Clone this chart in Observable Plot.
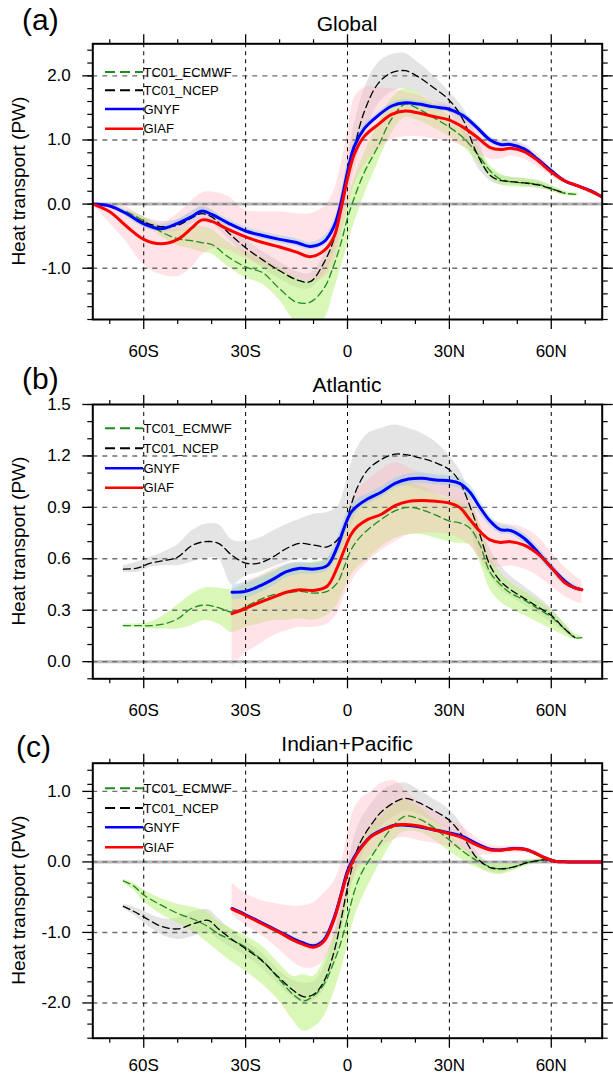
<!DOCTYPE html>
<html><head><meta charset="utf-8">
<script src="https://cdn.jsdelivr.net/npm/d3@7"></script>
<script src="https://cdn.jsdelivr.net/npm/@observablehq/plot@0.6"></script>
<style>
body{margin:0;background:#fff;}
#wrap{position:relative;width:613px;height:1076px;overflow:hidden;background:#fff;}
#wrap svg{position:absolute;left:0;overflow:visible;}
</style></head><body><div id="wrap"></div>
<script>
// ---------- shared labels ----------
const seriesNames = ["TC01_ECMWF", "TC01_NCEP", "GNYF", "GIAF"];
const latTicks = [-60, -30, 0, 30, 60];
const latTickLabels = ["60S", "30S", "0", "30N", "60N"];
const latMinor = [-70, -50, -40, -20, -10, 10, 20, 40, 50, 70];
const yLabel = "Heat transport (PW)";

// ---------- (a) Global ----------
const titleA = "Global";
const latA = [-75,-70,-65,-60,-55,-50,-46,-43,-40,-35,-30,-25,-20,-15,-11,-7,-4,-2,0,2,5,9,13,17,21,25,30,34,38,42,45,48,52,56,60,64,68,72,75];
const gnyfA = [0,-0.03,-0.15,-0.31,-0.385,-0.3,-0.2,-0.11,-0.16,-0.3,-0.42,-0.49,-0.55,-0.6,-0.66,-0.59,-0.35,0.0,0.5,0.9,1.18,1.38,1.53,1.58,1.56,1.52,1.48,1.38,1.2,1.0,0.93,0.93,0.86,0.7,0.52,0.36,0.28,0.2,0.11];
const gnyfA_lo = [0,-0.06,-0.2,-0.36,-0.43,-0.35,-0.26,-0.17,-0.21,-0.35,-0.47,-0.55,-0.61,-0.66,-0.71,-0.65,-0.43,-0.1,0.4,0.82,1.12,1.33,1.48,1.53,1.51,1.47,1.43,1.32,1.14,0.95,0.88,0.88,0.81,0.66,0.49,0.33,0.26,0.18,0.1];
const gnyfA_hi = [0,0,-0.1,-0.26,-0.33,-0.24,-0.13,-0.05,-0.1,-0.24,-0.36,-0.43,-0.49,-0.54,-0.6,-0.51,-0.26,0.1,0.6,0.98,1.24,1.43,1.58,1.63,1.61,1.57,1.53,1.44,1.26,1.05,0.98,0.98,0.91,0.74,0.55,0.39,0.3,0.22,0.12];
const giafA = [0,-0.12,-0.35,-0.55,-0.62,-0.55,-0.38,-0.25,-0.27,-0.4,-0.51,-0.6,-0.67,-0.75,-0.82,-0.73,-0.51,-0.1,0.4,0.78,1.06,1.24,1.4,1.45,1.42,1.37,1.31,1.2,1.05,0.88,0.85,0.87,0.82,0.68,0.5,0.36,0.28,0.19,0.11];
const giafA_lo = [0,-0.3,-0.6,-0.95,-1.1,-1.13,-1.0,-0.8,-0.7,-0.72,-0.85,-0.95,-1.05,-1.15,-1.2,-1.15,-0.9,-0.5,-0.1,0.3,0.6,0.85,1.0,1.05,1.05,1.02,0.98,0.9,0.8,0.7,0.7,0.75,0.7,0.58,0.44,0.32,0.26,0.18,0.11];
const giafA_hi = [0,0,-0.05,-0.2,-0.3,-0.15,0.05,0.17,0.19,0.12,-0.1,-0.12,-0.12,-0.15,-0.15,-0.05,0.2,0.6,1.1,1.65,1.82,1.82,1.8,1.75,1.7,1.62,1.55,1.42,1.25,1.05,1.0,1.0,0.94,0.78,0.56,0.4,0.3,0.2,0.11];
const ncepA = [null,null,-0.15,-0.28,-0.35,-0.33,-0.22,-0.15,-0.2,-0.45,-0.68,-0.87,-1.04,-1.18,-1.21,-0.92,-0.55,-0.12,0.4,0.88,1.45,1.88,2.05,2.08,1.98,1.83,1.62,1.32,0.8,0.45,0.37,0.35,0.33,0.3,0.24,0.17,null,null,null];
const ncepA_lo = [null,null,-0.2,-0.36,-0.43,-0.42,-0.32,-0.24,-0.3,-0.55,-0.8,-1.0,-1.17,-1.3,-1.32,-1.1,-0.75,-0.35,0.1,0.55,1.1,1.55,1.75,1.8,1.72,1.6,1.42,1.1,0.6,0.36,0.3,0.3,0.28,0.25,0.2,0.14,null,null,null];
const ncepA_hi = [null,null,-0.1,-0.2,-0.27,-0.24,-0.12,-0.03,-0.08,-0.35,-0.56,-0.74,-0.9,-1.05,-1.08,-0.8,-0.35,0.15,0.7,1.25,1.8,2.2,2.33,2.35,2.2,2.02,1.75,1.5,1.08,0.55,0.45,0.42,0.4,0.36,0.28,0.2,null,null,null];
const ecmwfA = [null,null,-0.12,-0.26,-0.43,-0.54,-0.57,-0.6,-0.63,-0.83,-0.98,-1.07,-1.32,-1.53,-1.53,-1.32,-0.95,-0.62,-0.22,0.1,0.5,0.9,1.33,1.56,1.48,1.36,1.2,1.04,0.8,0.52,0.39,0.35,0.33,0.31,0.24,0.17,0.15,null,null];
const ecmwfA_lo = [null,null,-0.15,-0.3,-0.5,-0.65,-0.7,-0.75,-0.78,-0.98,-1.15,-1.25,-1.5,-1.85,-1.9,-1.8,-1.35,-1.0,-0.65,-0.3,0.15,0.65,1.1,1.35,1.3,1.2,1.05,0.9,0.68,0.42,0.3,0.27,0.26,0.25,0.2,0.13,0.13,null,null];
const ecmwfA_hi = [null,null,-0.08,-0.2,-0.35,-0.4,-0.35,-0.35,-0.4,-0.6,-0.75,-0.85,-1.0,-1.15,-1.2,-1.0,-0.6,-0.3,0.1,0.4,0.8,1.25,1.65,1.8,1.72,1.58,1.38,1.18,0.92,0.6,0.47,0.42,0.4,0.37,0.29,0.2,0.17,null,null];
const yTicksA = [-1, 0, 1, 2];

// ---------- (b) Atlantic ----------
const titleB = "Atlantic";
const latB = [-66,-62,-58,-54,-50,-46,-42,-38,-34,-30,-26,-22,-18,-14,-10,-6,-3,-1,1,3,6,10,14,18,22,26,30,33,36,39,42,45,48,52,56,60,64,67,69];
const ncepB = [0.54,0.545,0.575,0.59,0.61,0.675,0.70,0.69,0.62,0.575,0.575,0.61,0.66,0.69,0.68,0.67,0.71,0.78,0.91,1.02,1.12,1.18,1.21,1.205,1.185,1.16,1.12,1.05,0.91,0.74,0.56,0.47,0.42,0.37,0.32,0.27,0.19,0.14,null];
const ncepB_lo = [0.52,0.52,0.55,0.56,0.56,0.58,0.6,0.6,0.45,0.5,0.52,0.55,0.58,0.6,0.6,0.6,0.62,0.68,0.78,0.88,0.95,1.0,1.02,1.02,1.0,0.98,0.95,0.88,0.78,0.6,0.5,0.42,0.38,0.33,0.28,0.23,0.17,0.13,null];
const ncepB_hi = [0.56,0.58,0.61,0.64,0.68,0.76,0.8,0.8,0.71,0.7,0.72,0.76,0.8,0.83,0.86,0.87,0.9,1.0,1.15,1.25,1.33,1.36,1.38,1.36,1.33,1.28,1.2,1.12,0.98,0.8,0.66,0.56,0.5,0.44,0.38,0.31,0.22,0.15,null];
const ecmwfB = [0.21,0.21,0.21,0.22,0.25,0.31,0.33,0.315,0.29,0.32,0.36,0.39,0.40,0.41,0.40,0.41,0.46,0.55,0.65,0.71,0.77,0.83,0.88,0.9,0.885,0.855,0.82,0.81,0.78,0.68,0.52,0.45,0.4,0.36,0.31,0.26,0.19,0.14,0.14];
const ecmwfB_lo = [0.2,0.2,0.19,0.19,0.19,0.21,0.24,0.22,0.17,0.2,0.22,0.24,0.24,0.25,0.24,0.27,0.33,0.42,0.5,0.55,0.6,0.67,0.72,0.74,0.74,0.72,0.7,0.69,0.68,0.58,0.42,0.35,0.31,0.27,0.23,0.19,0.15,0.13,0.13];
const ecmwfB_hi = [0.22,0.22,0.23,0.27,0.33,0.39,0.43,0.43,0.42,0.45,0.49,0.53,0.56,0.57,0.58,0.6,0.68,0.76,0.85,0.9,0.96,1.0,1.03,1.04,1.02,0.98,0.95,0.93,0.9,0.8,0.62,0.52,0.46,0.41,0.36,0.3,0.22,0.16,0.15];
const gnyfB = [null,null,null,null,null,null,null,null,0.405,0.41,0.44,0.48,0.525,0.545,0.54,0.56,0.67,0.78,0.87,0.91,0.95,0.99,1.04,1.065,1.07,1.06,1.055,1.04,0.99,0.9,0.82,0.77,0.765,0.72,0.64,0.55,0.47,0.43,0.42];
const gnyfB_lo = [null,null,null,null,null,null,null,null,0.36,0.37,0.4,0.44,0.49,0.51,0.51,0.53,0.62,0.73,0.83,0.88,0.92,0.96,1.01,1.035,1.04,1.03,1.025,1.01,0.95,0.86,0.79,0.745,0.74,0.69,0.61,0.52,0.45,0.41,0.41];
const gnyfB_hi = [null,null,null,null,null,null,null,null,0.45,0.46,0.49,0.52,0.565,0.58,0.575,0.6,0.72,0.83,0.91,0.95,0.98,1.02,1.07,1.095,1.1,1.09,1.085,1.07,1.03,0.94,0.85,0.8,0.79,0.75,0.67,0.58,0.49,0.45,0.43];
const giafB = [null,null,null,null,null,null,null,null,0.28,0.31,0.345,0.375,0.405,0.42,0.415,0.44,0.55,0.65,0.74,0.79,0.83,0.86,0.91,0.935,0.94,0.935,0.925,0.9,0.83,0.76,0.71,0.695,0.7,0.68,0.63,0.55,0.46,0.43,0.42];
const giafB_lo = [null,null,null,null,null,null,null,null,-0.03,0.05,0.1,0.15,0.18,0.2,0.2,0.22,0.28,0.38,0.46,0.52,0.58,0.65,0.7,0.74,0.75,0.75,0.74,0.72,0.68,0.6,0.56,0.55,0.56,0.54,0.5,0.44,0.38,0.35,0.34];
const giafB_hi = [null,null,null,null,null,null,null,null,0.42,0.47,0.5,0.54,0.57,0.58,0.57,0.6,0.7,0.82,0.93,1.0,1.06,1.12,1.16,1.13,1.1,1.08,1.07,1.04,0.96,0.88,0.83,0.81,0.8,0.78,0.73,0.64,0.55,0.5,0.47];
const yTicksB = [0, 0.3, 0.6, 0.9, 1.2, 1.5];

// ---------- (c) Indian+Pacific ----------
const titleC = "Indian+Pacific";
const latC = [-66,-63,-60,-55,-50,-45,-41,-38,-34,-30,-25,-20,-16,-13,-10,-7,-4,-2,0,2,4,7,10,14,17,21,25,30,34,38,42,45,49,53,58,61,65,70,75];
const ecmwfC = [-0.27,-0.34,-0.47,-0.61,-0.73,-0.82,-0.92,-1.02,-1.11,-1.21,-1.4,-1.67,-1.88,-1.97,-1.9,-1.74,-1.42,-1.15,-0.79,-0.42,-0.17,0.07,0.29,0.54,0.65,0.61,0.5,0.31,0.15,0.02,-0.07,-0.1,-0.07,-0.01,0.03,0.02,null,null,null];
const ecmwfC_lo = [-0.3,-0.4,-0.56,-0.74,-0.87,-1.0,-1.15,-1.27,-1.42,-1.55,-1.74,-1.98,-2.25,-2.4,-2.35,-2.2,-1.85,-1.55,-1.2,-0.8,-0.55,-0.25,0.02,0.33,0.43,0.42,0.33,0.15,0.02,-0.08,-0.16,-0.18,-0.12,-0.05,0.0,0.0,null,null,null];
const ecmwfC_hi = [-0.25,-0.3,-0.4,-0.52,-0.6,-0.65,-0.72,-0.85,-0.95,-1.05,-1.2,-1.45,-1.62,-1.6,-1.62,-1.4,-1.05,-0.75,-0.35,0.05,0.3,0.5,0.65,0.82,0.88,0.78,0.62,0.42,0.22,0.08,0.0,-0.02,0.0,0.03,0.05,0.04,null,null,null];
const ncepC = [-0.63,-0.7,-0.78,-0.91,-0.95,-0.87,-0.83,-0.95,-1.1,-1.23,-1.41,-1.65,-1.82,-1.91,-1.88,-1.7,-1.28,-0.85,-0.36,0.04,0.3,0.53,0.71,0.85,0.9,0.84,0.74,0.59,0.36,0.06,-0.08,-0.1,-0.07,-0.01,0.03,0.02,null,null,null];
const ncepC_lo = [-0.66,-0.75,-0.86,-1.03,-1.1,-1.05,-1.0,-1.1,-1.22,-1.33,-1.52,-1.75,-1.93,-2.0,-1.97,-1.82,-1.45,-1.05,-0.6,-0.2,0.05,0.3,0.5,0.65,0.72,0.68,0.58,0.43,0.22,-0.04,-0.14,-0.16,-0.11,-0.04,0.01,0.01,null,null,null];
const ncepC_hi = [-0.6,-0.64,-0.7,-0.8,-0.8,-0.7,-0.68,-0.8,-0.98,-1.12,-1.3,-1.55,-1.68,-1.72,-1.7,-1.5,-1.05,-0.6,-0.1,0.35,0.6,0.82,1.0,1.1,1.12,1.02,0.9,0.74,0.5,0.15,-0.02,-0.04,-0.02,0.02,0.05,0.04,null,null,null];
const gnyfC = [null,null,null,null,null,null,null,null,-0.66,-0.75,-0.87,-0.99,-1.09,-1.15,-1.19,-1.11,-0.8,-0.48,-0.13,0.07,0.21,0.37,0.45,0.52,0.52,0.5,0.46,0.41,0.36,0.26,0.18,0.17,0.19,0.17,0.06,0.01,0,0,0];
const gnyfC_lo = [null,null,null,null,null,null,null,null,-0.68,-0.77,-0.89,-1.01,-1.12,-1.18,-1.22,-1.14,-0.84,-0.52,-0.17,0.04,0.19,0.35,0.43,0.5,0.5,0.48,0.44,0.39,0.33,0.23,0.16,0.15,0.17,0.15,0.05,0.0,0,0,0];
const gnyfC_hi = [null,null,null,null,null,null,null,null,-0.64,-0.73,-0.85,-0.97,-1.06,-1.12,-1.16,-1.08,-0.76,-0.44,-0.09,0.1,0.23,0.39,0.47,0.54,0.54,0.52,0.48,0.43,0.38,0.28,0.2,0.19,0.21,0.19,0.07,0.02,0,0,0];
const giafC = [null,null,null,null,null,null,null,null,-0.67,-0.76,-0.88,-1.0,-1.11,-1.17,-1.21,-1.13,-0.82,-0.49,-0.16,0.05,0.2,0.36,0.44,0.52,0.53,0.51,0.46,0.4,0.34,0.24,0.17,0.166,0.185,0.17,0.06,0.01,0,0,0];
const giafC_lo = [null,null,null,null,null,null,null,null,-0.75,-0.9,-1.05,-1.25,-1.42,-1.5,-1.5,-1.4,-1.12,-0.85,-0.5,-0.2,-0.05,0.1,0.22,0.32,0.35,0.3,0.27,0.22,0.17,0.1,0.1,0.12,0.13,0.12,0.04,0.0,0,0,0];
const giafC_hi = [null,null,null,null,null,null,null,null,-0.3,-0.45,-0.55,-0.6,-0.63,-0.62,-0.58,-0.45,-0.28,-0.05,0.4,0.75,0.9,1.0,1.12,1.15,1.02,0.85,0.74,0.6,0.5,0.34,0.24,0.22,0.23,0.2,0.1,0.02,0,0,0];
const yTicksC = [-2, -1, 0, 1];

// ---------- drawing ----------
const FONT = "'Liberation Sans', Arial, Helvetica, sans-serif";
const COL = {ecmwfBand:"#b4f06e", ncepBand:"#bcbcbc", giafBand:"#ffb6c1", gnyfBand:"#87ceeb",
             ecmwf:"#1e8c1e", ncep:"#000000", gnyf:"#0000ff", giaf:"#ff0000"};

function toRows(lat, v, lo, hi) {
  return lat.map((l, i) => ({lat: l, v: v[i], lo: lo[i], hi: hi[i]}));
}
function range(a, b, s) { const out = []; for (let k = 0; a + k * s <= b + 1e-9; k++) out.push(+(a + k * s).toFixed(3)); return out; }
const latFmt = d => latTickLabels[latTicks.indexOf(d)];

function panel(cfg) {
  const W = 613, ML = 92.3, MR = 11.3;
  const ecm = toRows(cfg.lat, cfg.ecmwf, cfg.ecmwf_lo, cfg.ecmwf_hi);
  const nce = toRows(cfg.lat, cfg.ncep, cfg.ncep_lo, cfg.ncep_hi);
  const gny = toRows(cfg.lat, cfg.gnyf, cfg.gnyf_lo, cfg.gnyf_hi);
  const gia = toRows(cfg.lat, cfg.giaf, cfg.giaf_lo, cfg.giaf_hi);
  const band = (d, fill, op) => Plot.areaY(d.filter(r => r.lo != null && r.hi != null),
      {x: "lat", y1: "lo", y2: "hi", fill, fillOpacity: op, curve: "catmull-rom", clip: true});
  const line = (d, stroke, w, dash) => Plot.line(d.filter(r => r.v != null),
      {x: "lat", y: "v", stroke, strokeWidth: w, strokeDasharray: dash, curve: "catmull-rom", clip: true});
  const yMinor = range(cfg.yDomain[0], cfg.yDomain[1], cfg.yMinorStep);
  const tickStyle = {tickSize: 10, strokeWidth: 1.3, label: null, fontSize: 17};
  const minorStyle = {tickSize: 5, strokeWidth: 1.2, label: null, tickFormat: () => ""};
  const plot = Plot.plot({
    width: W, height: cfg.height,
    marginLeft: ML, marginRight: MR, marginTop: cfg.mTop, marginBottom: cfg.mBottom,
    style: {fontFamily: FONT, fontSize: "17px", color: "black", background: "transparent"},
    x: {domain: [-75, 75]},
    y: {domain: cfg.yDomain},
    marks: [
      band(nce, COL.ncepBand, 0.4),
      band(ecm, COL.ecmwfBand, 0.5),
      band(gia, COL.giafBand, 0.38),
      band(gny, COL.gnyfBand, 0.4),
      Plot.ruleY([0], {stroke: "#b8b8b8", strokeWidth: 3}),
      Plot.ruleY(cfg.yTicks.filter(t => t > cfg.yDomain[0] && t < cfg.yDomain[1]), {stroke: "#6e6e6e", strokeWidth: 1.4, strokeDasharray: "5,5"}),
      Plot.ruleX(latTicks, {stroke: "black", strokeWidth: 1, strokeDasharray: "4,4"}),
      line(ecm, COL.ecmwf, 1.3, "7,4"),
      line(nce, COL.ncep, 1.3, "7,4"),
      line(gny, COL.gnyf, 3, null),
      line(gia, COL.giaf, 3, null),
      Plot.frame({stroke: "black", strokeWidth: 2}),
      Plot.axisX(latTicks, {anchor: "bottom", ...tickStyle, tickPadding: cfg.xPad, tickFormat: latFmt}),
      Plot.axisX(latTicks, {anchor: "top", ...tickStyle, tickFormat: () => ""}),
      Plot.axisX(latMinor, {anchor: "bottom", ...minorStyle}),
      Plot.axisX(latMinor, {anchor: "top", ...minorStyle}),
      Plot.axisY(cfg.yTicks, {anchor: "left", ...tickStyle, tickPadding: 12, tickFormat: d => d.toFixed(1)}),
      Plot.axisY(cfg.yTicks, {anchor: "right", ...tickStyle, tickFormat: () => ""}),
      Plot.axisY(yMinor, {anchor: "left", ...minorStyle}),
      Plot.axisY(yMinor, {anchor: "right", ...minorStyle})
    ]
  });
  plot.style.top = cfg.top + "px";
  const svg = d3.select(plot);
  const fTop = cfg.mTop, fBot = cfg.height - cfg.mBottom;
  svg.append("text").attr("x", (ML + W - MR) / 2).attr("y", fTop - 12).attr("text-anchor", "middle")
    .style("font-family", FONT).style("font-size", "21px").text(cfg.title);
  svg.append("text").attr("x", cfg.tagX).attr("y", cfg.tagY).attr("text-anchor", "start")
    .style("font-family", FONT).style("font-size", "30px").text(cfg.tag);
  svg.append("text").attr("transform", `translate(25,${(fTop + fBot) / 2}) rotate(-90)`).attr("text-anchor", "middle")
    .style("font-family", FONT).style("font-size", "19px").text(yLabel);
  const leg = [
    {name: seriesNames[0], c: COL.ecmwf, dash: "10,5", w: 2},
    {name: seriesNames[1], c: COL.ncep, dash: "10,5", w: 2},
    {name: seriesNames[2], c: COL.gnyf, dash: null, w: 2.5},
    {name: seriesNames[3], c: COL.giaf, dash: null, w: 2.5}
  ];
  leg.forEach((d, i) => {
    const y = fTop + cfg.legRows[i];
    const ln = svg.append("line").attr("x1", 105).attr("x2", 143).attr("y1", y).attr("y2", y)
      .attr("stroke", d.c).attr("stroke-width", d.w);
    if (d.dash) ln.attr("stroke-dasharray", d.dash);
    svg.append("text").attr("x", 143.5).attr("y", y + 4.7).attr("text-anchor", "start")
      .style("font-family", FONT).style("font-size", "13px").text(d.name);
  });
  return plot;
}

const wrap = document.getElementById("wrap");
wrap.appendChild(panel({top: 0, height: 360, mTop: 43.3, mBottom: 41, yDomain: [-1.8, 2.5], yTicks: yTicksA, yMinorStep: 0.2, xPad: 15,
  lat: latA, ecmwf: ecmwfA, ecmwf_lo: ecmwfA_lo, ecmwf_hi: ecmwfA_hi, ncep: ncepA, ncep_lo: ncepA_lo, ncep_hi: ncepA_hi,
  gnyf: gnyfA, gnyf_lo: gnyfA_lo, gnyf_hi: gnyfA_hi, giaf: giafA, giaf_lo: giafA_lo, giaf_hi: giafA_hi,
  title: titleA, tag: "(a)", tagX: 22, tagY: 30, legRows: [28.7, 47, 65.7, 85.4]}));
wrap.appendChild(panel({top: 360, height: 360, mTop: 44, mBottom: 41.7, yDomain: [-0.1, 1.5], yTicks: yTicksB, yMinorStep: 0.1, xPad: 15,
  lat: latB, ecmwf: ecmwfB, ecmwf_lo: ecmwfB_lo, ecmwf_hi: ecmwfB_hi, ncep: ncepB, ncep_lo: ncepB_lo, ncep_hi: ncepB_hi,
  gnyf: gnyfB, gnyf_lo: gnyfB_lo, gnyf_hi: gnyfB_hi, giaf: giafB, giaf_lo: giafB_lo, giaf_hi: giafB_hi,
  title: titleB, tag: "(b)", tagX: 22, tagY: 29, legRows: [24.3, 44.3, 64.3, 83.7]}));
wrap.appendChild(panel({top: 720, height: 356, mTop: 42.7, mBottom: 38.3, yDomain: [-2.5, 1.4], yTicks: yTicksC, yMinorStep: 0.2, xPad: 11,
  lat: latC, ecmwf: ecmwfC, ecmwf_lo: ecmwfC_lo, ecmwf_hi: ecmwfC_hi, ncep: ncepC, ncep_lo: ncepC_lo, ncep_hi: ncepC_hi,
  gnyf: gnyfC, gnyf_lo: gnyfC_lo, gnyf_hi: gnyfC_hi, giaf: giafC, giaf_lo: giafC_lo, giaf_hi: giafC_hi,
  title: titleC, tag: "(c)", tagX: 16, tagY: 37, legRows: [25.6, 45.3, 64.6, 84.6]}));
</script></body></html>
